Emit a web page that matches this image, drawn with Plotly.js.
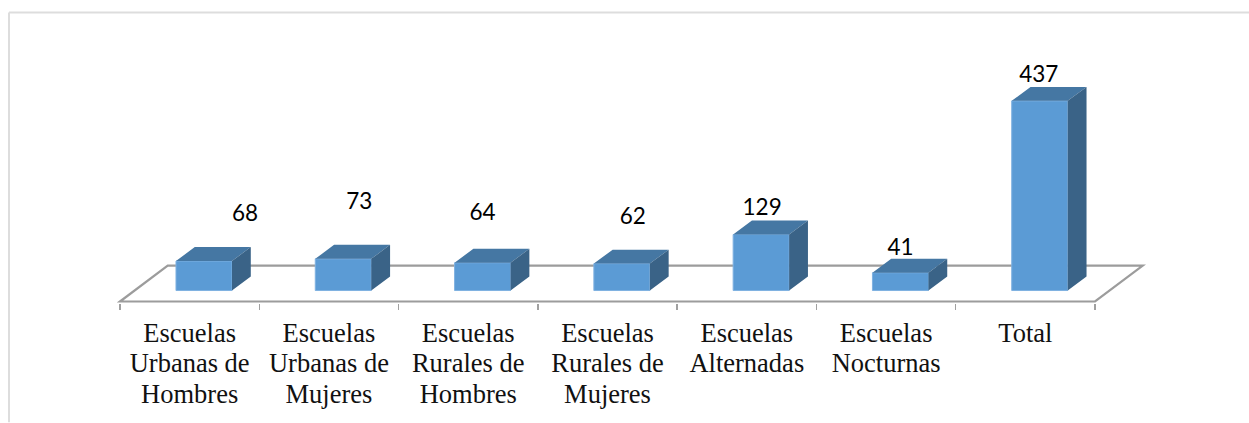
<!DOCTYPE html>
<html>
<head>
<meta charset="utf-8">
<script src="https://cdn.plot.ly/plotly-3.0.1.min.js"></script>
<style>html,body{margin:0;padding:0;background:#fff}#chart{width:1249px;height:423px}</style>
</head>
<body>
<div id="chart"></div>
<script>
// Escuelas por tipo
const categories = [
  "Escuelas<br>Urbanas de<br>Hombres",
  "Escuelas<br>Urbanas de<br>Mujeres",
  "Escuelas<br>Rurales de<br>Hombres",
  "Escuelas<br>Rurales de<br>Mujeres",
  "Escuelas<br>Alternadas",
  "Escuelas<br>Nocturnas",
  "Total"
];
const values = [68, 73, 64, 62, 129, 41, 437];

// Hand placement of each value label, in pixels from the top of its bar's front face
const labelNudgeX = [41, 16, 0, 11, 1, 0, -1];
const labelNudgeY = [46, 56, 48.5, 45.5, 25.5, 23.5, 24.5];

// Scales: pixels per category and pixels per unit of value
const pxPerCat = 139.29;
const pxPerUnit = 0.4348;

// Plot box in pixels; category -0.5 sits at x=120, value 0 sits at y=291
const W = 1249, H = 423;
const plotL = 116, plotR = 1147, plotT = 30, plotB = 303.5;
const zeroPx = 291, cat0Px = 120;
const xRange = [-0.5 + (plotL - cat0Px) / pxPerCat, -0.5 + (plotR - cat0Px) / pxPerCat];
const yRange = [(zeroPx - plotB) / pxPerUnit, (zeroPx - plotT) / pxPerUnit];

// Oblique projection used for the boxes and the floor
const barLeft = -0.098, barWidth = 0.402;
const depthX = 18.8 / pxPerCat, depthY = 14 / pxPerUnit;
const floorFront = (zeroPx - 302) / pxPerUnit, floorBack = (zeroPx - 266) / pxPerUnit;
const floorDepthX = 47.7 / pxPerCat;

const topX = [], topY = [], sideX = [], sideY = [];
values.forEach((v, i) => {
  const l = i + barLeft, r = l + barWidth;
  topX.push(l, r, r + depthX, l + depthX, l, null);
  topY.push(v, v, v + depthY, v + depthY, v, null);
  sideX.push(r, r + depthX, r + depthX, r, r, null);
  sideY.push(0, depthY, v + depthY, v, 0, null);
});

const idx = values.map((_, i) => i);
const edges = categories.map((_, i) => i - 0.5).concat(6.5);

const traces = [
  { type: "bar", x: idx, y: values, width: barWidth, offset: barLeft,
    marker: { color: "#5B9BD5", line: { color: "#7FB1E1", width: 1 } }, hoverinfo: "y", showlegend: false },
  { type: "scatter", mode: "lines", x: topX, y: topY, fill: "toself", fillcolor: "#4577A3",
    line: { width: 0 }, hoverinfo: "skip", showlegend: false },
  { type: "scatter", mode: "lines", x: sideX, y: sideY, fill: "toself", fillcolor: "#3A6387",
    line: { width: 0 }, hoverinfo: "skip", showlegend: false },
  { type: "scatter", mode: "text", xaxis: "x2",
    x: values.map((_, i) => i + barLeft + barWidth / 2 + labelNudgeX[i] / pxPerCat),
    y: values.map((v, i) => v + labelNudgeY[i] / pxPerUnit),
    text: values.map(String), textposition: "middle center", cliponaxis: false,
    textfont: { family: "Lato, Carlito, sans-serif", size: 22.5, color: "#000" },
    hoverinfo: "skip", showlegend: false }
];

const floorPath = "M" + [
  [-0.5, floorFront], [-0.5 + floorDepthX, floorBack],
  [6.5 + floorDepthX, floorBack], [6.5, floorFront]
].map(p => p.join(",")).join("L") + "Z";

// Outer frame: only the top and left edges are visible
const px = x => (x - plotL) / (plotR - plotL);
const py = y => (plotB - y) / (plotB - plotT);
const frame = (x0, y0, x1, y1) => ({
  type: "line", xref: "paper", yref: "paper", layer: "below",
  x0: px(x0), y0: py(y0), x1: px(x1), y1: py(y1),
  line: { color: "#DDDDDD", width: 2 }
});

const layout = {
  width: W, height: H,
  margin: { l: plotL, r: W - plotR, t: plotT, b: H - plotB, pad: 0 },
  paper_bgcolor: "#fff", plot_bgcolor: "rgba(0,0,0,0)",
  showlegend: false,
  xaxis: {
    type: "linear", range: xRange, tickmode: "array", tickvals: edges, showticklabels: false,
    ticks: "outside", ticklen: 5.5, tickwidth: 1.5, tickcolor: "#A0A0A0",
    showgrid: false, zeroline: false, showline: false, fixedrange: true
  },
  xaxis2: {
    type: "linear", overlaying: "x", anchor: "y", side: "bottom", range: xRange,
    tickmode: "array", tickvals: idx, ticktext: categories,
    ticks: "outside", ticklen: 6, tickcolor: "rgba(0,0,0,0)",
    tickfont: { family: "Liberation Serif, Times New Roman, serif", size: 26.5, color: "#111" },
    tickangle: 0, showgrid: false, zeroline: false, showline: false, fixedrange: true
  },
  yaxis: { type: "linear", range: yRange, visible: false, showgrid: false, zeroline: false, fixedrange: true },
  shapes: [
    { type: "path", xref: "x", yref: "y", layer: "below", path: floorPath,
      line: { color: "#9C9C9C", width: 2.2 }, fillcolor: "rgba(0,0,0,0)" },
    frame(9, 12.5, W, 12.5),
    frame(9, 12.5, 9, H)
  ]
};

Plotly.newPlot("chart", traces, layout, { displayModeBar: false, staticPlot: true }).then(gd => {
  // Tighter leading for the multi-line category labels
  gd.querySelectorAll(".xtick text, .x2tick text").forEach(t => {
    t.querySelectorAll("tspan.line").forEach((s, i) => s.setAttribute("dy", (i * 1.15) + "em"));
  });
});
</script>
</body>
</html>
